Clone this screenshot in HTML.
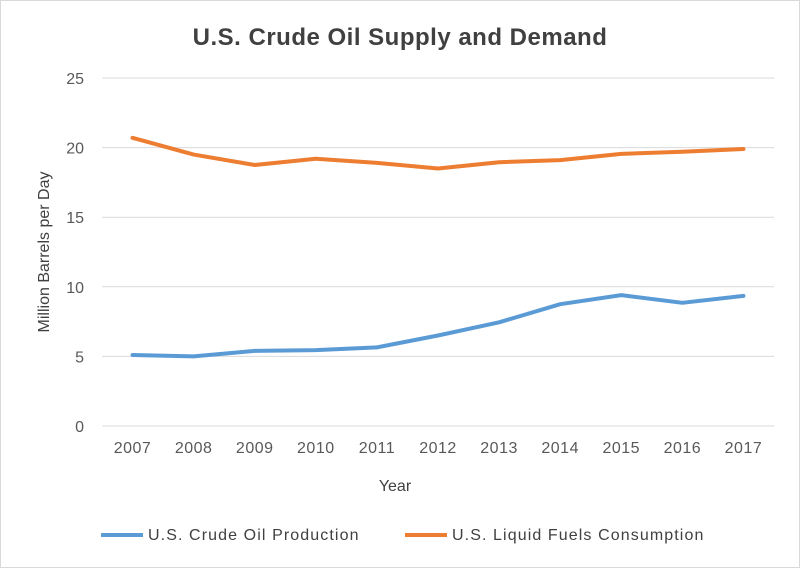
<!DOCTYPE html>
<html><head><meta charset="utf-8"><style>
body{margin:0;background:#fff;}
svg{display:block;font-family:"Liberation Sans",sans-serif;}
</style></head><body>
<svg id="chart" width="800" height="568">
<rect x="0.5" y="0.5" width="799" height="567" fill="#fff" stroke="#d9d9d9"/>
<text x="400" y="45" text-anchor="middle" font-size="24" font-weight="bold" fill="#404040" letter-spacing="0.5">U.S. Crude Oil Supply and Demand</text>
<g id="grid"></g><g id="yt"></g><g id="xt"></g><g id="lines"></g>
<text transform="translate(49,252) rotate(-90)" text-anchor="middle" font-size="16" fill="#404040">Million Barrels per Day</text>
<text x="395" y="491" text-anchor="middle" font-size="16" fill="#404040">Year</text>
<g><line x1="101" y1="535" x2="143" y2="535" stroke="#5b9bd5" stroke-width="4"/><text x="148" y="540" font-size="16" fill="#404040" letter-spacing="1.1">U.S. Crude Oil Production</text></g>
<g><line x1="405" y1="535" x2="447" y2="535" stroke="#ed7d31" stroke-width="4"/><text x="452" y="540" font-size="16" fill="#404040" letter-spacing="1.1">U.S. Liquid Fuels Consumption</text></g>
</svg>
<script>
const categories=["2007","2008","2009","2010","2011","2012","2013","2014","2015","2016","2017"];
const production=[5.1,5.0,5.4,5.45,5.65,6.5,7.45,8.75,9.4,8.85,9.35];
const consumption=[20.7,19.5,18.75,19.2,18.9,18.5,18.95,19.1,19.55,19.7,19.9];
const yTicks=[0,5,10,15,20,25];
const NS="http://www.w3.org/2000/svg";
const L=102,R=774,T=78,B=426,yMax=25;
const bw=(R-L)/categories.length;
const x=i=>L+bw*(i+0.5);
const y=v=>B-(v/yMax)*(B-T);
function mk(t,a,p){const e=document.createElementNS(NS,t);for(const k in a)e.setAttribute(k,a[k]);document.getElementById(p).appendChild(e);return e;}
yTicks.forEach(v=>{
 const g=mk("line",{x1:L,x2:R,y1:y(v),y2:y(v),stroke:"#d9d9d9","stroke-width":1},"grid");
 
 
 const t=mk("text",{x:84,y:y(v)+6,"text-anchor":"end","font-size":16,fill:"#595959"},"yt");
 t.textContent=v;
 
 
});
categories.forEach((c,i)=>{
 const t=mk("text",{x:x(i),y:453,"text-anchor":"middle","font-size":16,fill:"#595959","letter-spacing":0.5},"xt");
 t.textContent=c;
 
 
});
function line(d,col,name){
 const p=mk("polyline",{points:d.map((v,i)=>x(i)+","+y(v)).join(" "),fill:"none",stroke:col,"stroke-width":4,"stroke-linejoin":"round","stroke-linecap":"round"},"lines");
 
 
}
line(production,"#5b9bd5","production-line");
line(consumption,"#ed7d31","consumption-line");
</script>
</body></html>
